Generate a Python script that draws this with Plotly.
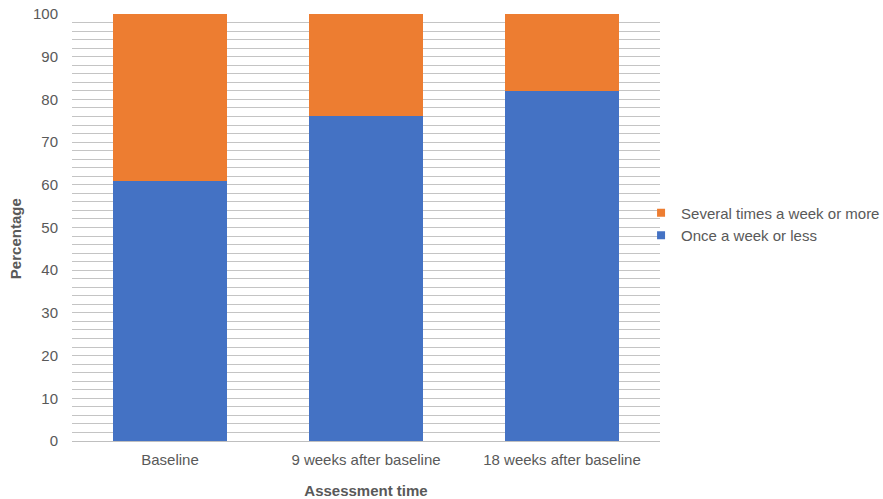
import plotly.graph_objects as go

categories = ["Baseline", "9 weeks after baseline", "18 weeks after baseline"]
once_or_less = [61, 76, 82]
several_or_more = [39, 24, 18]
y_ticks = [0, 10, 20, 30, 40, 50, 60, 70, 80, 90, 100]

BLUE = "#4472C4"
ORANGE = "#ED7D31"
TEXT = "#595959"
FONT = "Liberation Sans, Arial, sans-serif"

fig = go.Figure()
fig.add_trace(go.Bar(
    x=categories, y=once_or_less, name="Once a week or less",
    marker=dict(color=BLUE, line=dict(width=0)),
    showlegend=False,
))
fig.add_trace(go.Bar(
    x=categories, y=several_or_more, name="Several times a week or more",
    marker=dict(color=ORANGE, line=dict(width=0)),
    showlegend=False,
))

# Legend entries with small square swatches
for name, color in [("Once a week or less", BLUE), ("Several times a week or more", ORANGE)]:
    fig.add_trace(go.Scatter(
        x=[None], y=[None], mode="markers", name=name,
        marker=dict(symbol="square", size=8, color=color, line=dict(width=0)),
        showlegend=True,
    ))

# Vertical axis title, placed slightly below the plot's middle
fig.add_annotation(
    text="<b>Percentage</b>", textangle=-90,
    xref="paper", yref="paper", x=-0.097, y=0.475,
    xanchor="center", yanchor="middle", showarrow=False,
    font=dict(size=15, color=TEXT),
)

fig.update_layout(
    barmode="stack",
    bargap=0.423,
    width=883, height=499,
    margin=dict(l=72, r=223, t=14, b=58, autoexpand=False),
    paper_bgcolor="white",
    plot_bgcolor="white",
    font=dict(family=FONT, size=15, color=TEXT),
    legend=dict(
        xref="container", yref="container",
        x=0.726, xanchor="left", y=0.551, yanchor="middle",
        traceorder="reversed",
        font=dict(size=15, color=TEXT),
        itemwidth=30,
        tracegroupgap=0,
        bgcolor="rgba(0,0,0,0)",
    ),
    xaxis=dict(
        title=dict(text="<b>Assessment time</b>", font=dict(size=15, color=TEXT), standoff=19),
        showgrid=False,
        showline=False,
        ticks="",
        ticklabelstandoff=8,
        tickfont=dict(size=15, color=TEXT),
        automargin=False,
    ),
    yaxis=dict(
        range=[0, 100],
        tickvals=y_ticks,
        tickfont=dict(size=15, color=TEXT),
        ticklabelstandoff=13,
        showgrid=True,
        gridcolor="#C4C4C4",
        gridwidth=1,
        minor=dict(dtick=2, showgrid=True, gridcolor="#C4C4C4", gridwidth=1),
        zeroline=True,
        zerolinecolor="#BFBFBF",
        zerolinewidth=1,
        ticks="",
        showline=False,
        automargin=False,
    ),
)

fig.write_html("out.html")
